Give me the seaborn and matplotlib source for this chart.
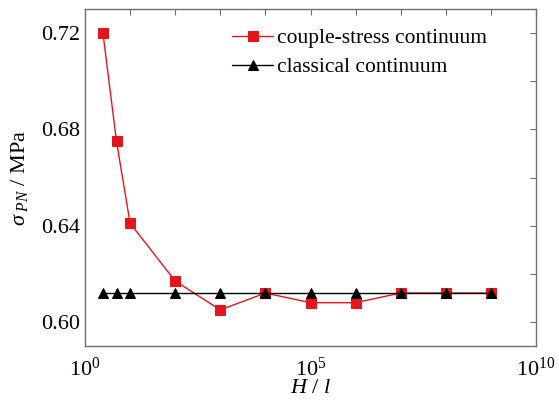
import math
import matplotlib
matplotlib.use("Agg")
import matplotlib.pyplot as plt
import matplotlib.ticker as mticker
import seaborn as sns
import pandas as pd

# H/l ratios and Peierls stress (MPa)
ratio = [2.5, 5, 10, 1e2, 1e3, 1e4, 1e5, 1e6, 1e7, 1e8, 1e9]
couple_stress = [0.720, 0.675, 0.641, 0.617, 0.605, 0.612, 0.608, 0.608, 0.612, 0.612, 0.612]
classical = [0.612] * 11

sns.set_theme(style="white")
plt.rcParams["font.family"] = ["Liberation Serif", "DejaVu Serif"]
plt.rcParams["mathtext.fontset"] = "custom"
plt.rcParams["mathtext.rm"] = "Liberation Serif"
plt.rcParams["mathtext.it"] = "Liberation Serif:italic"
plt.rcParams["text.color"] = "black"
plt.rcParams["axes.labelcolor"] = "black"

df = pd.DataFrame({
    "H/l": ratio * 2,
    "sigma": couple_stress + classical,
    "model": ["couple-stress continuum"] * 11 + ["classical continuum"] * 11,
})

fig = plt.figure(figsize=(5.59, 4.03), dpi=100)
ax = fig.add_axes([85 / 559, 1 - 346 / 403, 451 / 559, 337 / 403])

sns.lineplot(data=df[df.model == "couple-stress continuum"], x="H/l", y="sigma",
             color="#e8141c", marker="s", markersize=7, markeredgecolor="#e8141c",
             linewidth=1.0, label="couple-stress continuum", ax=ax)
sns.lineplot(data=df[df.model == "classical continuum"], x="H/l", y="sigma",
             color="black", marker="^", markersize=6.5, markeredgecolor="black",
             linewidth=1.0, label="classical continuum", ax=ax)

ax.set_xscale("log")
ax.set_xlim(1, 1e10)
ax.set_ylim(0.59, 0.73)
ax.xaxis.set_major_locator(mticker.FixedLocator([1, 1e5, 1e10]))
ax.xaxis.set_minor_locator(mticker.FixedLocator([10.0 ** k for k in range(1, 10) if k != 5]))
ax.xaxis.set_minor_formatter(mticker.NullFormatter())
ax.xaxis.set_major_formatter(mticker.FuncFormatter(lambda v, p: r"$\mathrm{10^{%d}}$" % round(math.log10(v))))
ax.yaxis.set_major_locator(mticker.FixedLocator([0.60, 0.64, 0.68, 0.72]))
ax.yaxis.set_minor_locator(mticker.FixedLocator([0.62, 0.66, 0.70]))
ax.yaxis.set_major_formatter(mticker.FormatStrFormatter("%.2f"))

for s in ax.spines.values():
    s.set_color("#6e6e6e")
    s.set_linewidth(1.0)
ax.tick_params(which="both", direction="in", top=True, right=True, color="#6e6e6e",
               labelcolor="black", labelsize=16, width=0.8, length=4)
ax.tick_params(axis="x", pad=8)

ax.set_xlabel(r"$H\ /\ l$", fontsize=16, labelpad=-1)
ax.set_ylabel(r"$\sigma_{\ PN}$ / MPa", fontsize=16, labelpad=8)

ax.legend(loc="upper right", bbox_to_anchor=(0.935, 1.0), frameon=False, fontsize=15.5,
          handlelength=1.9, handletextpad=0.2, labelspacing=0.4)

fig.savefig("out.png", dpi=100)
